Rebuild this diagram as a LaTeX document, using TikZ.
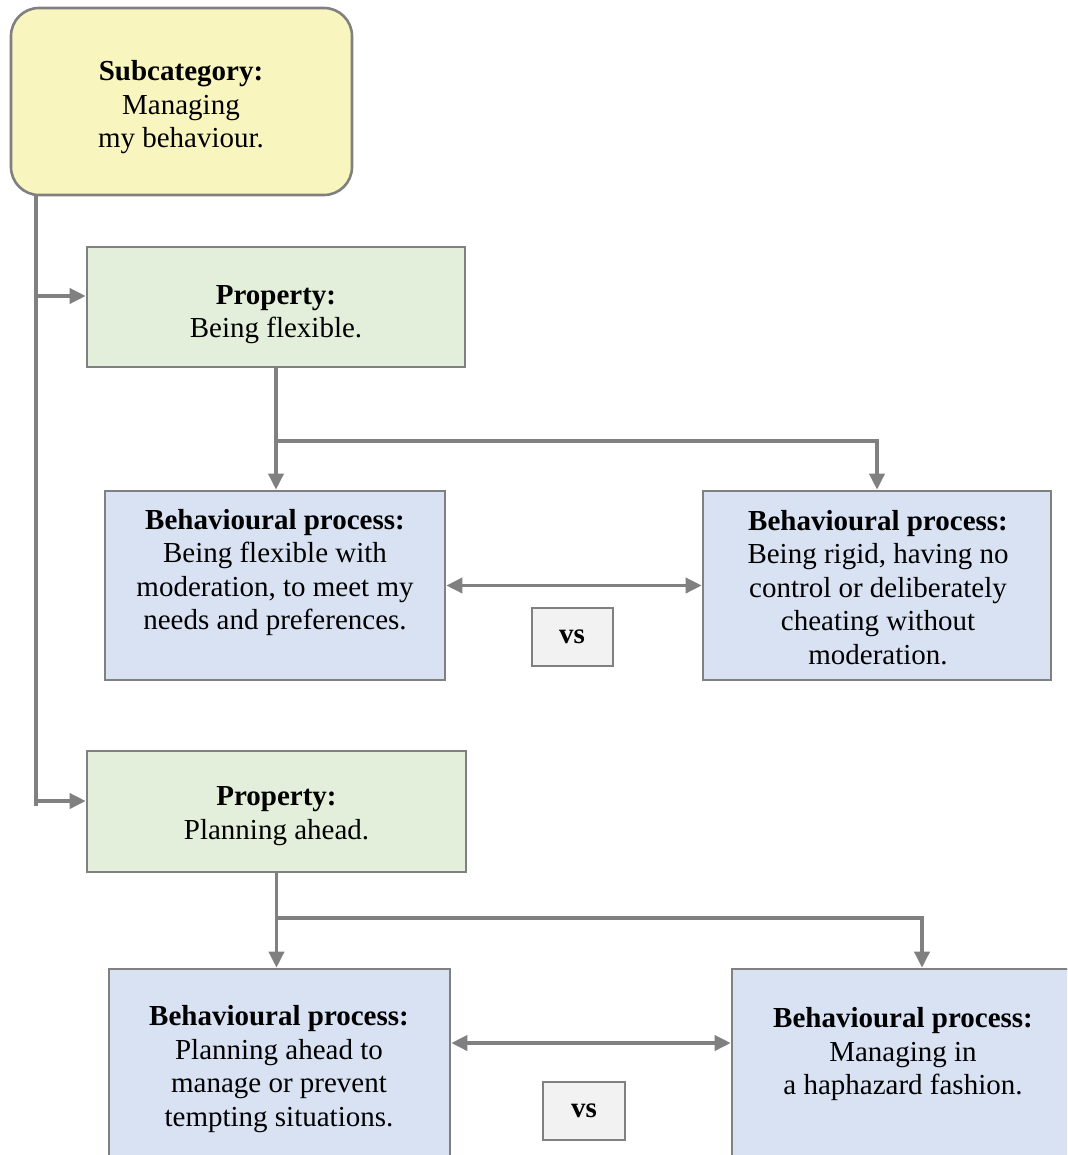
\documentclass[tikz,border=0pt]{standalone}
\usepackage{fontspec}
\setmainfont{Liberation Serif}
\usetikzlibrary{arrows.meta}
\definecolor{linegray}{HTML}{808080}
\definecolor{subfill}{HTML}{F8F5BE}
\definecolor{propfill}{HTML}{E3EFDA}
\definecolor{procfill}{HTML}{D9E2F3}
\definecolor{vsfill}{HTML}{F2F2F2}
\begin{document}
\begin{tikzpicture}[x=1pt,y=-1pt,
  box/.style={draw=linegray, line width=2.6pt, inner sep=0pt, rectangle},
  subbox/.style={box, fill=subfill, rounded corners=28pt},
  propbox/.style={box, fill=propfill},
  procbox/.style={box, fill=procfill},
  vsbox/.style={box, fill=vsfill, line width=2pt},
  txt/.style={align=center, inner sep=0pt, font=\fontsize{29}{33.5}\selectfont},
  conn/.style={draw=linegray, line width=3.6pt},
  arr/.style={conn, -{Triangle[length=16pt,width=15pt]}},
  darr/.style={conn, {Triangle[length=16pt,width=15pt]}-{Triangle[length=16pt,width=15pt]}}
]
\useasboundingbox (0,0) rectangle (1067,1155);
\clip (0,0) rectangle (1067,1155);

% boxes
\node[subbox, minimum width=341pt, minimum height=187pt] (sub) at (181.5,101.5) {};
\node[propbox, minimum width=378pt, minimum height=120pt] (p1) at (276,307) {};
\node[procbox, minimum width=340pt, minimum height=189pt] (bp1) at (275,585.5) {};
\node[procbox, minimum width=348pt, minimum height=189pt] (bp2) at (877,585.5) {};
\node[vsbox, minimum width=81pt, minimum height=58pt] (vs1) at (572,637) {};
\node[propbox, minimum width=379pt, minimum height=121pt] (p2) at (276.5,811.5) {};
\node[procbox, minimum width=341pt, minimum height=206pt] (bp3) at (279.5,1072) {};
\node[procbox, minimum width=358pt, minimum height=206pt] (bp4) at (911,1072) {};
\node[vsbox, minimum width=82pt, minimum height=58pt] (vs2) at (584,1111) {};

% texts
\node[txt] (subtxt) at (181,107.5) {\textbf{Subcategory:}\\Managing\\my behaviour.};
\node[txt] (p1txt) at (276,314.5) {\textbf{Property:}\\Being flexible.};
\node[txt] (bp1txt) at (275,572.5) {\textbf{Behavioural process:}\\Being flexible with\\moderation, to meet my\\needs and preferences.};
\node[txt] (bp2txt) at (878,587.5) {\textbf{Behavioural process:}\\Being rigid, having no\\control or deliberately\\cheating without\\moderation.};
\node[txt] (vs1txt) at (vs1) {\textbf{vs}};
\node[txt] (p2txt) at (276.5,816) {\textbf{Property:}\\Planning ahead.};
\node[txt] (bp3txt) at (279,1069) {\textbf{Behavioural process:}\\Planning ahead to\\manage or prevent\\tempting situations.};
\node[txt] (bp4txt) at (903,1054.5) {\textbf{Behavioural process:}\\Managing in\\a haphazard fashion.};
\node[txt] (vs2txt) at (vs2) {\textbf{vs}};

% helper coordinates
\coordinate (tx) at (36,0);
\coordinate (b1) at (36,296);
\coordinate (b2) at (36,801);
\coordinate (tend) at (36,806);
\coordinate (h1) at (0,441);
\coordinate (h2) at (0,918);
\coordinate (h3) at (0,1043);
\coordinate (x4) at (922,0);

% trunk and branches to the properties
\draw[conn] (tx |- sub.south) -- (tend);
\draw[arr] (b1) -- (b1 -| p1.west);
\draw[arr] (b2) -- (b2 -| p2.west);

% first property
\draw[arr] (p1.south) -- (p1.south |- bp1.north);
\draw[arr] (p1.south |- h1) -| (bp2.north);
\draw[darr] (bp1.east) -- (bp2.west);

% second property
\draw[arr] (p2.south) -- (p2.south |- bp3.north);
\draw[arr] (p2.south |- h2) -| (x4 |- bp4.north);
\draw[darr] (bp3.east |- h3) -- (bp4.west |- h3);
\end{tikzpicture}
\end{document}
